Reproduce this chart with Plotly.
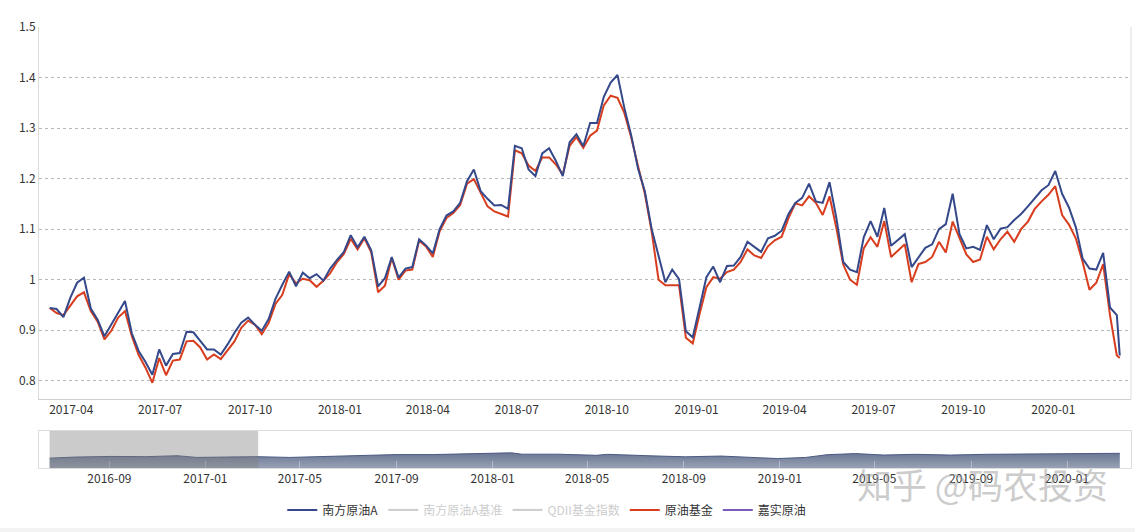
import pandas as pd
import plotly.graph_objects as go

# weekly NAV readings, 2017-03-10 .. 2020-03-06 plus the last trading day shown
dates = list(pd.date_range("2017-03-10", periods=157, freq="7D")) + [pd.Timestamp("2020-03-09")]

nanfang_a = [
    0.944, 0.942, 0.926, 0.964, 0.994, 1.004, 0.943, 0.921, 0.888, 0.911,
    0.935, 0.958, 0.894, 0.859, 0.837, 0.812, 0.862, 0.830, 0.853, 0.855,
    0.897, 0.896, 0.879, 0.862, 0.862, 0.852, 0.872, 0.895, 0.915, 0.925,
    0.911, 0.899, 0.922, 0.962, 0.990, 1.016, 0.987, 1.014, 1.003, 1.011,
    0.998, 1.022, 1.039, 1.055, 1.088, 1.064, 1.085, 1.058, 0.987, 1.003,
    1.045, 1.004, 1.022, 1.025, 1.080, 1.068, 1.052, 1.100, 1.127, 1.135,
    1.152, 1.195, 1.218, 1.175, 1.160, 1.147, 1.148, 1.140, 1.265, 1.260,
    1.218, 1.205, 1.250, 1.260, 1.235, 1.205, 1.272, 1.288, 1.264, 1.310,
    1.310, 1.362, 1.390, 1.405, 1.340, 1.286, 1.220, 1.175, 1.100, 1.045,
    0.995, 1.020, 1.001, 0.898, 0.886, 0.945, 1.005, 1.026, 0.995, 1.027,
    1.028, 1.045, 1.075, 1.065, 1.055, 1.082, 1.087, 1.097, 1.130, 1.152,
    1.162, 1.190, 1.155, 1.152, 1.193, 1.122, 1.035, 1.020, 1.015, 1.084,
    1.116, 1.085, 1.142, 1.067, 1.078, 1.090, 1.025, 1.045, 1.063, 1.070,
    1.100, 1.110, 1.170, 1.090, 1.062, 1.065, 1.059, 1.108, 1.080, 1.101,
    1.104, 1.118, 1.130, 1.145, 1.160, 1.177, 1.187, 1.215, 1.170, 1.143,
    1.104, 1.042, 1.022, 1.020, 1.053, 0.945, 0.930, 0.850,
]

crude_fund = [
    0.944, 0.934, 0.930, 0.948, 0.967, 0.975, 0.938, 0.917, 0.882, 0.899,
    0.925, 0.938, 0.888, 0.851, 0.826, 0.796, 0.845, 0.811, 0.840, 0.842,
    0.878, 0.879, 0.866, 0.842, 0.852, 0.843, 0.860, 0.878, 0.905, 0.919,
    0.911, 0.892, 0.914, 0.952, 0.970, 1.011, 0.993, 1.002, 0.999, 0.986,
    0.998, 1.013, 1.035, 1.051, 1.081, 1.060, 1.082, 1.054, 0.975, 0.988,
    1.043, 1.000, 1.018, 1.020, 1.077, 1.066, 1.045, 1.096, 1.122, 1.132,
    1.148, 1.190, 1.199, 1.172, 1.145, 1.135, 1.130, 1.125, 1.256, 1.250,
    1.226, 1.215, 1.242, 1.242, 1.228, 1.208, 1.265, 1.282, 1.261, 1.285,
    1.295, 1.345, 1.364, 1.360, 1.330, 1.282, 1.225, 1.170, 1.095, 1.000,
    0.989, 0.989, 0.989, 0.885, 0.874, 0.932, 0.985, 1.005, 1.002, 1.015,
    1.020, 1.035, 1.060, 1.048, 1.043, 1.066, 1.078, 1.085, 1.122, 1.151,
    1.147, 1.165, 1.152, 1.128, 1.165, 1.102, 1.030, 1.000, 0.990, 1.062,
    1.084, 1.065, 1.116, 1.045, 1.057, 1.070, 0.995, 1.031, 1.035, 1.045,
    1.075, 1.054, 1.115, 1.082, 1.050, 1.035, 1.040, 1.085, 1.060, 1.080,
    1.095, 1.075, 1.100, 1.115, 1.140, 1.155, 1.168, 1.185, 1.128, 1.109,
    1.082, 1.035, 0.980, 0.994, 1.031, 0.930, 0.850, 0.845,
]

# data-zoom preview (whole history)
shadow_dates = [
    "2016-06-17", "2016-07-20", "2016-09-03", "2016-10-18", "2016-11-26", "2016-12-21",
    "2017-01-26", "2017-03-08", "2017-04-18", "2017-06-02", "2017-07-18", "2017-09-01",
    "2017-10-17", "2017-12-01", "2018-01-25", "2018-02-07", "2018-03-25", "2018-05-13",
    "2018-05-27", "2018-07-20", "2018-09-03", "2018-10-18", "2018-11-23", "2018-12-29",
    "2019-02-03", "2019-03-02", "2019-04-07", "2019-05-13", "2019-06-22", "2019-08-06",
    "2019-09-20", "2019-11-04", "2019-12-19", "2020-01-24", "2020-03-08",
]
shadow_vals = [
    0.79, 0.88, 0.93, 0.91, 0.99, 0.85,
    0.88, 0.91, 0.85, 0.93, 0.99, 1.08,
    1.08, 1.13, 1.22, 1.11, 1.11, 1.02,
    1.10, 0.98, 0.90, 0.96, 0.85, 0.76,
    0.85, 1.07, 1.16, 1.04, 1.10, 1.04,
    1.10, 1.10, 1.12, 1.16, 1.18,
]

y_ticks = [0.8, 0.9, 1.0, 1.1, 1.2, 1.3, 1.4, 1.5]
y_tick_text = ["0.8", "0.9", "1", "1.1", "1.2", "1.3", "1.4", "1.5"]

font = "Noto Sans CJK SC, Microsoft YaHei, sans-serif"
BLUE = "#34488a"
RED = "#d83d1e"
PURPLE = "#7e5bb5"
OFF = "#9a9a9a"

fig = go.Figure()

# legend entries
fig.add_trace(go.Scatter(x=[None], y=[None], name="南方原油A", mode="lines",
                         line=dict(color=BLUE, width=2), legendrank=1))
fig.add_trace(go.Scatter(x=[None], y=[None], name="<span style='color:%s'>南方原油A基准</span>" % OFF,
                         mode="lines", line=dict(color=OFF, width=2), visible="legendonly",
                         legendrank=2))
fig.add_trace(go.Scatter(x=[None], y=[None], name="<span style='color:%s'>QDII基金指数</span>" % OFF,
                         mode="lines", line=dict(color=OFF, width=2), visible="legendonly",
                         legendrank=3))
fig.add_trace(go.Scatter(x=[None], y=[None], name="原油基金", mode="lines",
                         line=dict(color=RED, width=2), legendrank=4))
fig.add_trace(go.Scatter(x=[None], y=[None], name="嘉实原油", mode="lines",
                         line=dict(color=PURPLE, width=2), legendrank=5))

# main lines (red under blue)
fig.add_trace(go.Scatter(x=dates, y=crude_fund, mode="lines", showlegend=False,
                         line=dict(color=RED, width=2), name="原油基金"))
fig.add_trace(go.Scatter(x=dates, y=nanfang_a, mode="lines", showlegend=False,
                         line=dict(color=BLUE, width=2), name="南方原油A"))

# slider preview
fig.add_trace(go.Scatter(x=shadow_dates, y=shadow_vals, mode="lines", showlegend=False,
                         line=dict(color="#4b5a82", width=1), fill="tozeroy",
                         fillgradient=dict(type="vertical",
                                           colorscale=[[0, "#98a1b4"], [1, "#6a7794"]]),
                         xaxis="x2", yaxis="y2", hoverinfo="skip"))

fig.update_layout(
    width=1135, height=532,
    margin=dict(l=39, r=4, t=27, b=64),
    paper_bgcolor="white", plot_bgcolor="white",
    font=dict(family=font, size=12, color="#333"),
    xaxis=dict(domain=[0, 1], range=["2017-02-27", "2020-03-20 12:00"], type="date",
               tick0="2017-01-01", dtick="M3", tickformat="%Y-%m", ticks="",
               showgrid=False, showline=True, linecolor="#cfcfcf", linewidth=1,
               anchor="y", automargin=False),
    yaxis=dict(domain=[0.1565, 1], range=[0.764, 1.5], tickvals=y_ticks, ticktext=y_tick_text,
               showgrid=True, gridcolor="#b8b8b8", griddash="dot", gridwidth=1,
               showline=True, linecolor="#dcdcdc", zeroline=False, ticks="",
               anchor="x", automargin=False),
    xaxis2=dict(domain=[0, 1], range=["2016-06-03 12:00", "2020-03-22 05:00"], type="date",
                tick0="2016-09-01", dtick="M4", tickformat="%Y-%m", ticks="inside",
                ticklen=7, tickcolor="#b4bccb", showgrid=False, showline=True, mirror=True,
                linecolor="#dddddd", anchor="y2", automargin=False),
    yaxis2=dict(domain=[0, 0.0846], range=[0, 3], showticklabels=False, showgrid=False,
                zeroline=False, showline=True, mirror=True, linecolor="#dddddd", anchor="x2",
                automargin=False),
    legend=dict(orientation="h", x=0.465, xanchor="center", y=-0.095, yanchor="middle",
                font=dict(size=12, color="#333"), itemwidth=30, bgcolor="rgba(0,0,0,0)"),
    showlegend=True,
    shapes=[
        # right border of main plot
        dict(type="line", xref="paper", yref="paper", x0=1, x1=1, y0=0.1565, y1=1,
             line=dict(color="#dcdcdc", width=1)),
        # unselected part of the zoom window
        dict(type="rect", xref="x2", yref="y2", x0="2016-06-17", x1="2017-03-09",
             y0=0, y1=3, fillcolor="rgba(125,125,125,0.4)", line=dict(width=0), layer="above"),
        # grey strip under the chart
        dict(type="rect", xref="paper", yref="paper", x0=-0.05, x1=1.01, y0=-0.2, y1=-0.136,
             fillcolor="#f3f3f3", line=dict(width=0), layer="below"),
    ],
    annotations=[
        dict(text="知乎 @码农投资", xref="paper", yref="paper", x=0.864, y=-0.036,
             xanchor="center", yanchor="middle", showarrow=False,
             font=dict(family=font, size=35, color="rgba(160,160,160,0.55)")),
    ],
)

fig.write_html("out.html", config={"displayModeBar": False},
               post_script="document.body.style.margin='0px';")
